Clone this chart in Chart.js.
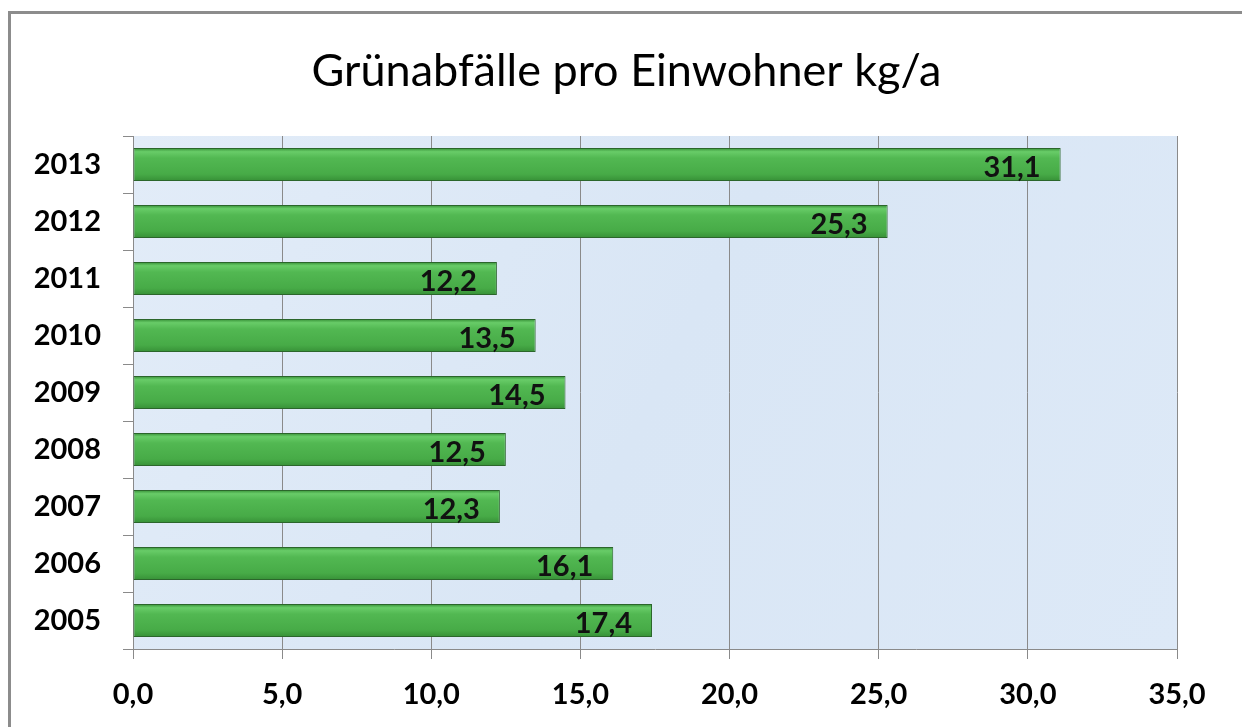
<!DOCTYPE html>
<html lang="de">
<head>
    <meta charset="UTF-8">
    <title>Grünabfälle pro Einwohner</title>
    <script src="https://cdn.jsdelivr.net/npm/chart.js"></script>
    <style>
        body {
            margin: 0;
            padding: 0;
            background: #ffffff;
            overflow: hidden;
        }
        .frame {
            position: absolute;
            left: 8px;
            top: 11px;
            width: 1400px;
            height: 900px;
            border: 3px solid #8c8c8c;
        }
        #chart {
            position: absolute;
            left: 0;
            top: 0;
        }
    </style>
</head>
<body>
    <div class="frame"></div>
    <canvas id="chart" width="1242" height="727"></canvas>

    <script>
        // values
        const years = ["2013", "2012", "2011", "2010", "2009", "2008", "2007", "2006", "2005"];
        const kgPerResident = [31.1, 25.3, 12.2, 13.5, 14.5, 12.5, 12.3, 16.1, 17.4];
        const axisMin = 0;
        const axisMax = 35;
        const axisStep = 5;

        const fmt = v => Number(v).toFixed(1).replace('.', ',');
        const FONT = 'Lato, "DejaVu Sans", sans-serif';

        // light blue plot background
        const plotBackground = {
            id: 'plotBackground',
            beforeDraw(chart) {
                const { ctx, chartArea: a } = chart;
                ctx.save();
                const g = ctx.createLinearGradient(a.left, a.top, a.right, a.bottom);
                g.addColorStop(0, '#e2ecf8');
                g.addColorStop(0.5, '#d9e6f5');
                g.addColorStop(1, '#dde9f7');
                ctx.fillStyle = g;
                ctx.fillRect(a.left, a.top, a.right - a.left, a.bottom - a.top);
                ctx.restore();
            }
        };

        // the left padding only serves to centre the title; let the year labels use it
        const widenYLabels = {
            id: 'widenYLabels',
            afterLayout(chart) {
                const y = chart.scales.y;
                y.left = 0;
            }
        };

        // value labels inside the bar ends
        const valueLabels = {
            id: 'valueLabels',
            afterDatasetsDraw(chart) {
                const { ctx } = chart;
                const meta = chart.getDatasetMeta(0);
                ctx.save();
                ctx.font = 'bold 29px ' + FONT;
                ctx.fillStyle = '#111111';
                ctx.textAlign = 'right';
                ctx.textBaseline = 'middle';
                meta.data.forEach((bar, i) => {
                    ctx.fillText(fmt(kgPerResident[i]), bar.x - 20, bar.y + 3);
                });
                ctx.restore();
            }
        };

        function barFill(context) {
            const chart = context.chart;
            const y = chart.scales.y;
            if (!y || !chart.chartArea) return '#4cb04c';
            const c = y.getPixelForValue(context.dataIndex);
            const half = 16;
            const g = chart.ctx.createLinearGradient(0, c - half, 0, c + half);
            g.addColorStop(0, '#3c963c');
            g.addColorStop(0.1, '#68cc68');
            g.addColorStop(0.3, '#52b852');
            g.addColorStop(0.8, '#47ab47');
            g.addColorStop(1, '#389238');
            return g;
        }

        new Chart(document.getElementById('chart'), {
            type: 'bar',
            data: {
                labels: years,
                datasets: [{
                    data: kgPerResident,
                    backgroundColor: barFill,
                    borderColor: '#2b662b',
                    borderWidth: 1,
                    borderSkipped: false,
                    barPercentage: 0.58,
                    categoryPercentage: 1.0
                }]
            },
            options: {
                indexAxis: 'y',
                responsive: false,
                animation: false,
                layout: { padding: { left: 76, right: 65, top: 0, bottom: 0 } },
                plugins: {
                    legend: { display: false },
                    tooltip: { enabled: false },
                    title: {
                        display: true,
                        text: 'Grünabfälle pro Einwohner kg/a',
                        color: '#000000',
                        font: { family: FONT, size: 45, weight: 'normal' },
                        padding: { top: 44, bottom: 38 }
                    }
                },
                scales: {
                    x: {
                        min: axisMin,
                        max: axisMax,
                        afterFit(scale) { scale.height = 78; },
                        ticks: {
                            stepSize: axisStep,
                            color: '#000000',
                            padding: 18,
                            font: { family: FONT, size: 29, weight: 'bold' },
                            callback: v => fmt(v)
                        },
                        grid: {
                            color: '#8a8a8a',
                            lineWidth: 1,
                            tickLength: 10
                        },
                        border: { color: '#8a8a8a', width: 1 }
                    },
                    y: {
                        afterFit(scale) { scale.width = 57; },
                        ticks: {
                            color: '#000000',
                            padding: 22,
                            font: { family: FONT, size: 29, weight: 'bold' }
                        },
                        grid: {
                            color: '#8a8a8a',
                            drawOnChartArea: false,
                            tickLength: 10,
                            offset: true
                        },
                        border: { color: '#8a8a8a', width: 1 }
                    }
                }
            },
            plugins: [plotBackground, widenYLabels, valueLabels]
        });
    </script>
</body>
</html>
